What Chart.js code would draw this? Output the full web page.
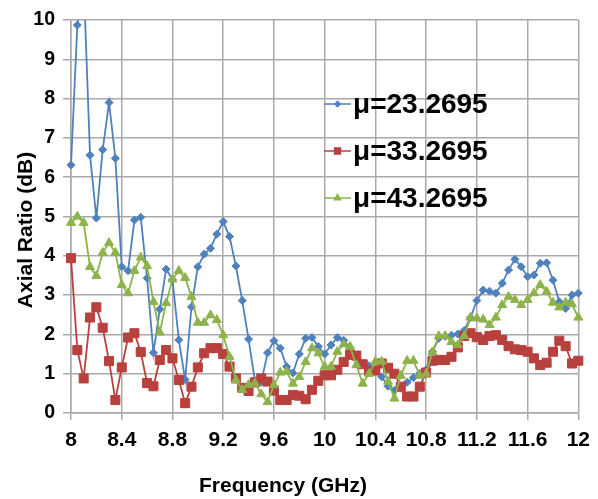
<!DOCTYPE html>
<html>
<head>
<meta charset="utf-8">
<script src="https://cdn.jsdelivr.net/npm/chart.js@4/dist/chart.umd.min.js"></script>
<style>
  html, body { margin: 0; padding: 0; background: #fff; }
  canvas { display: block; }
</style>
</head>
<body>
<canvas id="graph" width="598" height="499"></canvas>
<script>
const ctx = document.getElementById('graph').getContext('2d')

const FONT = 'Liberation Sans, Arial, sans-serif'

// frequency (GHz) of every sample
const freq = [
  8.00, 8.05, 8.10, 8.15, 8.20, 8.25, 8.30, 8.35, 8.40, 8.45,
  8.50, 8.55, 8.60, 8.65, 8.70, 8.75, 8.80, 8.85, 8.90, 8.95,
  9.00, 9.05, 9.10, 9.15, 9.20, 9.25, 9.30, 9.35, 9.40, 9.45,
  9.50, 9.55, 9.60, 9.65, 9.70, 9.75, 9.80, 9.85, 9.90, 9.95,
  10.00, 10.05, 10.10, 10.15, 10.20, 10.25, 10.30, 10.35, 10.40, 10.45,
  10.50, 10.55, 10.60, 10.65, 10.70, 10.75, 10.80, 10.85, 10.90, 10.95,
  11.00, 11.05, 11.10, 11.15, 11.20, 11.25, 11.30, 11.35, 11.40, 11.45,
  11.50, 11.55, 11.60, 11.65, 11.70, 11.75, 11.80, 11.85, 11.90, 11.95,
  12.00,
]

// axial ratio (dB)
const mu23 = [
  6.31, 9.87, 11.0, 6.56, 4.96, 6.7, 7.9, 6.48, 3.72, 3.62,
  4.91, 4.98, 3.43, 1.53, 2.64, 3.66, 3.4, 1.86, 0.85, 2.7,
  3.72, 4.04, 4.19, 4.55, 4.87, 4.49, 3.74, 2.86, 1.88, 0.82,
  0.78, 1.53, 1.84, 1.65, 1.18, 1.02, 1.5, 1.9, 1.92, 1.69,
  1.5, 1.73, 1.92, 1.85, 1.66, 1.42, 1.26, 1.2, 1.09, 0.92,
  0.68, 0.58, 0.63, 0.78, 0.9, 1.01, 1.1, 1.56, 1.9, 1.95,
  1.98, 2.01, 2.1, 2.43, 2.86, 3.13, 3.1, 3.05, 3.3, 3.64,
  3.91, 3.72, 3.47, 3.51, 3.81, 3.82, 3.38, 2.83, 2.66, 3.0,
  3.05,
]
const mu33 = [
  3.94, 1.6, 0.88, 2.43, 2.69, 2.17, 1.32, 0.33, 1.16, 1.92,
  2.03, 1.55, 0.76, 0.68, 1.35, 1.6, 1.39, 0.84, 0.25, 0.67,
  1.16, 1.52, 1.65, 1.65, 1.5, 1.18, 0.88, 0.64, 0.56, 0.78,
  0.88, 0.8, 0.57, 0.33, 0.33, 0.46, 0.44, 0.35, 0.59, 0.82,
  0.96, 0.96, 1.1, 1.3, 1.48, 1.46, 1.24, 1.07, 1.08, 1.26,
  1.15, 1.0, 0.67, 0.42, 0.42, 0.67, 1.03, 1.33, 1.35, 1.35,
  1.43, 1.67, 1.96, 2.03, 1.93, 1.86, 1.96, 1.98, 1.86, 1.7,
  1.62, 1.6, 1.56, 1.39, 1.22, 1.28, 1.56, 1.84, 1.7, 1.26,
  1.33,
]
const mu43 = [
  4.84, 5.0, 4.84, 3.72, 3.49, 4.08, 4.33, 4.08, 3.26, 3.05,
  3.62, 3.96, 3.74, 2.83, 2.05, 2.8, 3.4, 3.62, 3.44, 2.96,
  2.3, 2.3, 2.49, 2.37, 1.98, 1.43, 0.84, 0.59, 0.72, 0.76,
  0.48, 0.28, 0.71, 1.03, 1.05, 0.75, 0.92, 1.3, 1.65, 1.52,
  1.18, 1.18, 1.56, 1.75, 1.69, 1.22, 0.75, 1.0, 1.31, 1.31,
  0.8, 0.37, 0.95, 1.33, 1.33, 0.95, 1.0, 1.55, 1.96, 1.96,
  1.81, 1.73, 1.96, 2.43, 2.41, 2.38, 2.24, 2.43, 2.75, 2.96,
  2.88, 2.75, 2.88, 3.05, 3.26, 3.09, 2.81, 2.69, 2.81, 2.77,
  2.43,
]

const xTicks = [8, 8.4, 8.8, 9.2, 9.6, 10, 10.4, 10.8, 11.2, 11.6, 12]
const yTicks = [0, 1, 2, 3, 4, 5, 6, 7, 8, 9, 10]

const SERIES = [
  { label: 'μ=23.2695', data: mu23, colour: '#4F81BD', style: 'rectRot', radius: 4, order: 2 },
  { label: 'μ=33.2695', data: mu33, colour: '#B8403D', style: 'rect', radius: 6.4, order: 1 },
  { label: 'μ=43.2695', data: mu43, colour: '#8DB34A', style: 'triangle', radius: 5.2, order: 0 },
]

const GRID = '#a9a9a9'

// legend drawn inside the plot, like the original
const insideLegend = {
  id: 'insideLegend',
  afterDraw(chart) {
    const c = chart.ctx
    const rows = [104, 151, 198]
    c.save()
    SERIES.forEach((s, i) => {
      const y = rows[i]
      c.strokeStyle = s.colour
      c.lineWidth = 1.5
      c.beginPath()
      c.moveTo(324, y)
      c.lineTo(351, y)
      c.stroke()
      c.fillStyle = s.colour
      Chart.helpers.drawPoint(c, { pointStyle: s.style, radius: s.radius * 0.65, rotation: 0, borderWidth: 1 }, 337.5, y)
      c.fill()
      c.fillStyle = '#000'
      c.font = 'bold 28px ' + FONT
      c.textAlign = 'left'
      c.textBaseline = 'middle'
      c.fillText(s.label, 353, y + 1)
    })
    c.restore()
  },
}

// axis titles sit off-centre in the original, so place them by hand
const axisTitles = {
  id: 'axisTitles',
  afterDraw(chart) {
    const c = chart.ctx
    c.save()
    c.fillStyle = '#000'
    c.font = 'bold 21px ' + FONT
    c.textAlign = 'center'
    c.textBaseline = 'middle'
    c.fillText('Frequency (GHz)', 283, 486)
    c.translate(26, 230)
    c.rotate(-Math.PI / 2)
    c.fillText('Axial Ratio (dB)', 0, 0)
    c.restore()
  },
}

let graph = new Chart(ctx, {
  type: 'line',
  data: {
    datasets: SERIES.map(s => ({
      label: s.label,
      data: freq.map((f, i) => ({ x: f, y: s.data[i] })),
      borderColor: s.colour,
      backgroundColor: s.colour,
      pointBackgroundColor: s.colour,
      pointBorderColor: s.colour,
      pointStyle: s.style,
      pointRadius: s.radius,
      pointBorderWidth: 1,
      borderWidth: 1.8,
      tension: 0,
      order: s.order,
      clip: { left: 6, right: 6, top: 0, bottom: 6 },
    })),
  },
  options: {
    responsive: false,
    animation: false,
    layout: { padding: { top: 20, right: 13, left: 0, bottom: 0 } },
    plugins: {
      legend: { display: false },
      tooltip: { enabled: false },
    },
    scales: {
      x: {
        type: 'linear',
        min: 8,
        max: 12,
        afterBuildTicks: s => { s.ticks = xTicks.map(v => ({ value: v })) },
        afterFit: s => { s.height = 86 },
        ticks: {
          autoSkip: false,
          maxRotation: 0,
          padding: 8,
          color: '#000',
          font: { family: FONT, size: 21, weight: 'bold' },
          callback: v => String(v),
        },
        grid: { color: GRID, lineWidth: 1.5, tickLength: 7 },
        border: { color: GRID, width: 1.5 },
      },
      y: {
        min: 0,
        max: 10,
        afterBuildTicks: s => { s.ticks = yTicks.map(v => ({ value: v })) },
        afterFit: s => { s.width = 71 },
        ticks: {
          padding: 8,
          color: '#000',
          font: { family: FONT, size: 19.5, weight: 'bold' },
        },
        grid: { color: GRID, lineWidth: 1.5, tickLength: 8 },
        border: { color: GRID, width: 1.5 },
      },
    },
  },
  plugins: [insideLegend, axisTitles],
})
</script>
</body>
</html>
